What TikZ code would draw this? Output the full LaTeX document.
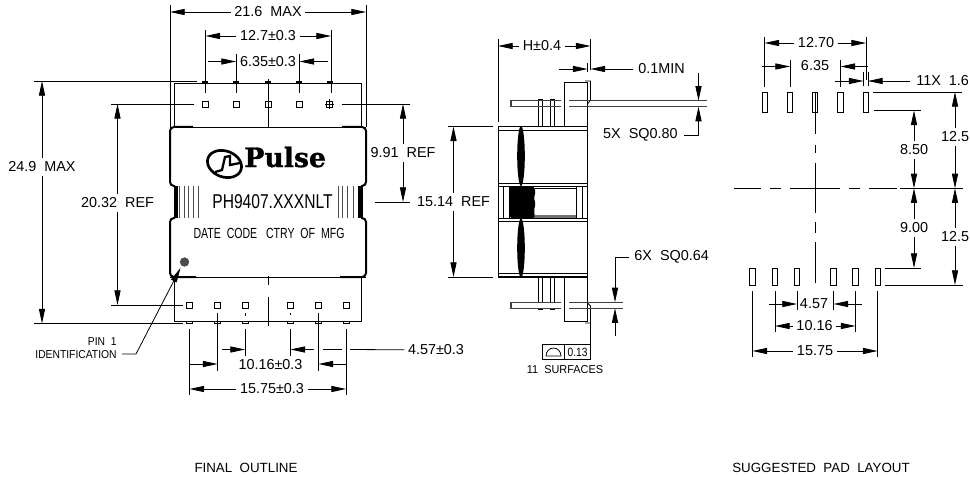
\documentclass[tikz,border=0pt]{standalone}
\usepackage{fontspec}
\setmainfont{Liberation Sans}
\newfontfamily\logofont{DejaVu Serif Bold}[FakeBold=1.2]
\usetikzlibrary{arrows.meta}
\begin{document}
\begin{tikzpicture}[x=0.75pt,y=-0.75pt,line width=0.6pt,
        dimtip/.style={-{Triangle[length=11pt,width=4.6pt]}},
        lbl/.style={font=\fontsize{10.8}{12}\selectfont,inner sep=2.5pt},
        small/.style={font=\fontsize{8.6}{10}\selectfont,inner sep=0pt},
        thickside/.style={line width=1.5pt,rounded corners=3pt},
        pinline/.style={line width=0.9pt,black!75}]
    \useasboundingbox (0,0) rectangle (970,481);

    \foreach \name/\x/\ya/\yb in {fa/170/5/127,fb/366/5/127,fc/205.5/30/93,fd/331/30/93,fe/236/54/93,ff/299.5/54/93,
            ga/189.5/329/395,gb/346/329/395,gc/217.5/313/371,gd/318.5/313/371,ge/245/329/356,gf/290.5/329/356,
            ha/498/39/122,hb/590.5/39/70,hc/587.5/63/72,
            ka/764.5/37/87,kb/866/37/80,kc/790/60/87,kd/840.5/60/87,ke/863.5/72/86,kf/868/72/86,
            ma/752.5/291/357,mb/877.5/291/357,mc/775/291/332,md/855.5/291/332,me/797/291/310,mf/833.5/291/310}{
        \coordinate (\name) at (\x,\ya);
        \draw (\name) -- (\x,\yb);
    }

    \draw (174.5,127) rectangle (361.5,83);
    \draw (174.5,277) rectangle (361.5,321.5);
    \draw (170,127) -- (366,127);
    \draw (170,277) -- (366,277);
    \draw[thickside] (175,186) -- (170,186) -- (170,127) -- (193,127);
    \draw[thickside] (361,186) -- (366,186) -- (366,127) -- (342,127);
    \draw[thickside] (175,218) -- (170,218) -- (170,277) -- (196,277);
    \draw[thickside] (361,218) -- (366,218) -- (366,277) -- (340,277);
    \fill (173.5,186) rectangle (178,218);
    \fill (358,186) rectangle (362.5,218);
    \foreach \x in {179,184,188,193,198,338,342,347,353}{
        \draw[black!70] (\x,186) -- (\x,218);
    }

    \foreach \x in {205,236,268,299,329.5}{
        \draw (\x-3,101) rectangle (\x+3,107);
        \draw[line width=0.8pt] (\x-3,82) -- (\x+3,82);
    }
    \draw (329.5,99) -- (329.5,109);
    \draw (325,104) -- (334,104);
    \draw (268,79) -- (268,127);
    \foreach \x in {189.5,217.5,245,290.5,318.5,346}{
        \draw (\x-3,302) rectangle (\x+3,308);
        \draw (\x-3,321.5) rectangle (\x+3,323.5);
    }
    \draw (245,313) -- (245,316);
    \draw (290.5,313) -- (290.5,315);
    \draw (268,276) -- (268,285);
    \draw (268,297) -- (268,326);

    \node[anchor=base west,inner sep=0pt,font=\logofont\fontsize{20}{21}\selectfont] (pulse) at (244,167) {Pulse};
    \draw[line width=2pt] (224.5,164) ellipse [x radius=17.5,y radius=13,rotate=-20];
    \draw[line width=1.7pt] (215,172) -- (222,170) -- (225,157) -- (230,156) -- (230,165) -- (240,163);
    \node[font=\fontsize{15}{16}\selectfont,inner sep=0pt] (partno) at (272.5,202) {\scalebox{.78}[1]{PH9407.XXXNLT}};
    \node[font=\fontsize{11}{12}\selectfont,inner sep=0pt] (marks) at (269,233) {\scalebox{.72}[1]{DATE\ \ CODE\ \ \ CTRY\ \ OF\ \ MFG}};
    \node[circle,fill=black!70,minimum size=7pt,inner sep=0pt] (dot) at (184.5,262) {};

    \node[lbl] (d216) at (268,12) {21.6\ \ MAX};
    \draw[dimtip] (d216) -- (d216 -| fa);
    \draw[dimtip] (d216) -- (d216 -| fb);
    \node[lbl] (d127) at (268,36) {12.7±0.3};
    \draw[dimtip] (d127) -- (d127 -| fc);
    \draw[dimtip] (d127) -- (d127 -| fd);
    \node[lbl,inner sep=0pt] (d635) at (268,61.5) {6.35±0.3};
    \coordinate (d635a) at (208,61.5);
    \coordinate (d635b) at (328,61.5);
    \draw[dimtip] (d635a) -- (d635a -| fe);
    \draw[dimtip] (d635b) -- (d635b -| ff);

    \coordinate (ra) at (34,81);
    \coordinate (rb) at (197,81);
    \coordinate (rc) at (34,323.5);
    \coordinate (rd) at (183,323.5);
    \draw (ra) -- (rb);
    \draw (rc) -- (rd);
    \node[lbl] (d249) at (42,167) {24.9\ \ MAX};
    \draw[dimtip] (d249) -- (d249 |- ra);
    \draw[dimtip] (d249) -- (d249 |- rc);
    \coordinate (sa) at (111,104);
    \coordinate (sb) at (194,104);
    \coordinate (sc) at (111,305);
    \coordinate (sd) at (183,305);
    \draw (sa) -- (sb);
    \draw (sc) -- (sd);
    \node[lbl] (d2032) at (117.5,203) {20.32\ \ REF};
    \draw[dimtip] (d2032) -- (d2032 |- sa);
    \draw[dimtip] (d2032) -- (d2032 |- sc);
    \coordinate (ta) at (342,104);
    \coordinate (tb) at (410,104);
    \coordinate (tc) at (375,202);
    \coordinate (td) at (410,202);
    \draw (ta) -- (tb);
    \draw (tc) -- (td);
    \node[lbl] (d991) at (403,153) {9.91\ \ REF};
    \draw[dimtip] (d991) -- (d991 |- ta);
    \draw[dimtip] (d991) -- (d991 |- tc);

    \node[small,anchor=east] (pinone) at (117,342) {\scalebox{.9}[1]{PIN\ \ 1}};
    \node[small,anchor=east] (pinid) at (117,355) {\scalebox{.9}[1]{IDENTIFICATION}};
    \coordinate (pa) at (122,354);
    \coordinate (pb) at (136,354);
    \coordinate (pc) at (180.5,268);
    \draw[dimtip] (pa) -- (pb) -- (pc);

    \node[lbl] (d457) at (436,350) {4.57±0.3};
    \coordinate (ua) at (222,349.5);
    \coordinate (ub) at (314,349.5);
    \coordinate (uc) at (323,349.5);
    \coordinate (ud) at (342,349.5);
    \coordinate (ue) at (350,349.5);
    \draw[dimtip] (ua) -- (ua -| ge);
    \draw[dimtip] (ub) -- (ub -| gf);
    \draw (uc) -- (ud);
    \draw (ue) -- (d457);
    \node[lbl,inner sep=0pt] (d1016) at (270.5,365) {10.16±0.3};
    \coordinate (va) at (189.5,364);
    \coordinate (vb) at (346,364);
    \draw[dimtip] (va) -- (va -| gc);
    \draw[dimtip] (vb) -- (vb -| gd);
    \node[lbl] (d1575) at (272,389) {15.75±0.3};
    \draw[dimtip] (d1575) -- (d1575 -| ga);
    \draw[dimtip] (d1575) -- (d1575 -| gb);

    \draw (498,126.5) rectangle (587.5,277);
    \draw (498,130) -- (587.5,130);
    \draw (498,183.3) -- (587.5,183.3);
    \draw (498,186.7) -- (587.5,186.7);
    \draw (498,218.3) -- (587.5,218.3);
    \draw (498,221.7) -- (587.5,221.7);
    \draw (498,273) -- (587.5,273);
    \draw[line width=1pt] (498,277) -- (587.5,277);
    \foreach \x in {503,509,576,582}{
        \draw (\x,186.7) -- (\x,218.3);
    }
    \draw (535,188.5) -- (576,188.5);
    \draw[line width=2pt,black!55] (535,216.5) -- (576,216.5);
    \fill (521,156) ellipse [x radius=3.8,y radius=30];
    \fill (521,248) ellipse [x radius=3.8,y radius=29.5];
    \fill[rounded corners=1.5pt] (510,186) -- (534,186) -- (535.5,192) -- (534,198) -- (535.5,204) -- (534,210) -- (535,218.5) -- (510,218.5) -- (509,210) -- (510,204) -- (509,198) -- (510,192) -- cycle;

    \draw (564.5,126.5) -- (564.5,82.5) -- (587.5,82.5) -- (587.5,126.5);
    \draw (564.5,277) -- (564.5,321) -- (587.5,321) -- (587.5,277);
    \draw (585,81) -- (590.5,81) -- (590.5,100) -- (587.5,104);
    \draw (585,323) -- (590.5,323) -- (590.5,306) -- (587.5,303);
    \foreach \x in {538,550}{
        \draw (\x,126.5) -- (\x,99) -- (\x+4.5,99) -- (\x+4.5,126.5);
        \draw (\x,277) -- (\x,303);
        \draw (\x+4.5,277) -- (\x+4.5,303);
        \draw[line width=1pt] (\x,309.5) -- (\x+4.5,309.5);
    }
    \draw[pinline] (561,100.7) -- (511,100.7) -- (511,106.7) -- (561,106.7);
    \draw[pinline] (569,100.7) -- (707,100.7);
    \draw[pinline] (569,106.7) -- (707,106.7);
    \draw[pinline] (561,302.3) -- (511,302.3) -- (511,308.3) -- (561,308.3);
    \draw[pinline] (569,302.3) -- (623,302.3);
    \draw[pinline] (569,308.3) -- (623,308.3);

    \node[lbl] (dh) at (542,46) {H±0.4};
    \draw[dimtip] (dh) -- (dh -| ha);
    \draw[dimtip] (dh) -- (dh -| hb);
    \node[lbl,anchor=west,inner sep=0pt] (dmin) at (638,69) {0.1MIN};
    \coordinate (wa) at (559,69);
    \coordinate (wb) at (633,69);
    \draw[dimtip] (wa) -- (wa -| hc);
    \draw[dimtip] (wb) -- (wb -| hb);

    \coordinate (xa) at (448,126.5);
    \coordinate (xb) at (493,126.5);
    \coordinate (xc) at (448,277);
    \coordinate (xd) at (493,277);
    \draw (xa) -- (xb);
    \draw (xc) -- (xd);
    \node[lbl] (d1514) at (453.5,202) {15.14\ \ REF};
    \draw[dimtip] (d1514) -- (d1514 |- xa);
    \draw[dimtip] (d1514) -- (d1514 |- xc);

    \coordinate (ya) at (698.5,73);
    \coordinate (yb) at (698.5,100.7);
    \coordinate (yc) at (698.5,135);
    \coordinate (yd) at (698.5,106.7);
    \node[lbl,anchor=east,inner sep=0pt] (d080) at (678,135) {5X\ \ SQ0.80};
    \coordinate (ye) at (684,135);
    \draw[dimtip] (ya) -- (yb);
    \draw[dimtip] (ye) -- (yc) -- (yd);
    \coordinate (za) at (629,257);
    \coordinate (zb) at (615,257);
    \coordinate (zc) at (615,302.3);
    \coordinate (zd) at (615,336);
    \coordinate (ze) at (615,308.3);
    \node[lbl,anchor=west,inner sep=0pt] (d064) at (634,257) {6X\ \ SQ0.64};
    \draw[dimtip] (za) -- (zb) -- (zc);
    \draw[dimtip] (zd) -- (ze);

    \draw (590.5,323) -- (590.5,344.5);
    \draw (542,344.5) rectangle (590.5,359.5);
    \draw (564.5,344.5) -- (564.5,359.5);
    \draw (546,356) -- (561,356) arc [start angle=0,end angle=-180,x radius=7.5,y radius=8];
    \node[small,font=\fontsize{9}{10}\selectfont] (tol) at (577.5,352) {\scalebox{.85}[1]{0.13}};
    \node[small] (surf) at (565,370) {\scalebox{.95}[1]{11\ \ SURFACES}};

    \foreach \x in {765,790,815,840.5,866}{
        \draw (\x-2.7,92) rectangle (\x+2.7,112);
    }
    \foreach \x in {752.5,775,797,833.5,855.5,878}{
        \draw (\x-2.7,268) rectangle (\x+2.7,285);
    }
    \draw (815,92) -- (815,134);
    \draw (815,145) -- (815,153);
    \draw (815,163) -- (815,213);
    \draw (815,222) -- (815,233);
    \draw (815,242) -- (815,283);
    \foreach \xa/\xb in {734/761,770/781,790/840,849/860,869/897,900/963}{
        \draw (\xa,188.3) -- (\xb,188.3);
    }

    \node[lbl] (d1270) at (816,43) {12.70};
    \draw[dimtip] (d1270) -- (d1270 -| ka);
    \draw[dimtip] (d1270) -- (d1270 -| kb);
    \node[lbl] (d635p) at (815,66) {6.35};
    \coordinate (ba) at (762,66.5);
    \coordinate (bb) at (868,66.5);
    \draw[dimtip] (ba) -- (ba -| kc);
    \draw[dimtip] (bb) -- (bb -| kd);
    \node[lbl,anchor=west,inner sep=0pt] (d16) at (916,81) {11X\ \ 1.6};
    \coordinate (ca) at (835,81);
    \coordinate (cb) at (910,81);
    \draw[dimtip] (ca) -- (ca -| ke);
    \draw[dimtip] (cb) -- (cb -| kf);

    \coordinate (ea) at (873,92);
    \coordinate (eb) at (962,92);
    \coordinate (ec) at (874,110.5);
    \coordinate (ed) at (921,110.5);
    \coordinate (ee) at (885,268);
    \coordinate (ef) at (921,268);
    \coordinate (eg) at (885,285);
    \coordinate (eh) at (963,285);
    \coordinate (ei) at (914,188.3);
    \coordinate (ej) at (955,188.3);
    \draw (ea) -- (eb);
    \draw (ec) -- (ed);
    \draw (ee) -- (ef);
    \draw (eg) -- (eh);
    \node[lbl] (d850) at (914,150) {8.50};
    \draw[dimtip] (d850) -- (d850 |- ec);
    \draw[dimtip] (d850) -- (d850 |- ei);
    \node[lbl] (d900) at (914,228) {9.00};
    \draw[dimtip] (d900) -- (d900 |- ei);
    \draw[dimtip] (d900) -- (d900 |- ee);
    \node[lbl] (d125a) at (955,137) {12.5};
    \draw[dimtip] (d125a) -- (d125a |- ea);
    \draw[dimtip] (d125a) -- (d125a |- ej);
    \node[lbl] (d125b) at (955,237) {12.5};
    \draw[dimtip] (d125b) -- (d125b |- ej);
    \draw[dimtip] (d125b) -- (d125b |- eg);

    \node[lbl,inner sep=0pt] (d457p) at (814,304) {4.57};
    \coordinate (na) at (769,304);
    \coordinate (nb) at (862,304);
    \draw[dimtip] (na) -- (na -| me);
    \draw[dimtip] (nb) -- (nb -| mf);
    \node[lbl] (d1016p) at (814.5,326) {10.16};
    \draw[dimtip] (d1016p) -- (d1016p -| mc);
    \draw[dimtip] (d1016p) -- (d1016p -| md);
    \node[lbl] (d1575p) at (815,351) {15.75};
    \draw[dimtip] (d1575p) -- (d1575p -| ma);
    \draw[dimtip] (d1575p) -- (d1575p -| mb);

    \node[small,font=\fontsize{10}{11}\selectfont] (outline) at (246,468) {FINAL\ \ OUTLINE};
    \node[small,font=\fontsize{10}{11}\selectfont] (padlayout) at (821,468) {SUGGESTED\ \ PAD\ \ LAYOUT};
\end{tikzpicture}
\end{document}
